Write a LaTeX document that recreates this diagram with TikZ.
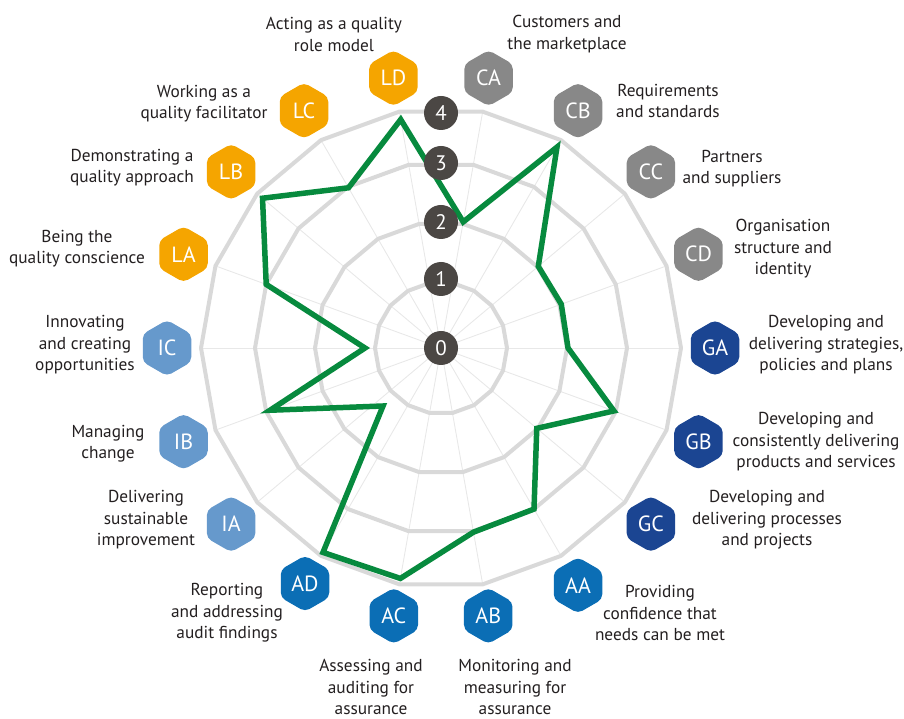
\documentclass[tikz,border=0pt]{standalone}
\usepackage{fontspec}
\setmainfont{PT Sans}
\usetikzlibrary{shapes.geometric}
\definecolor{ringgray}{HTML}{D9D9D9}
\definecolor{spokegray}{HTML}{E8E8E8}
\definecolor{qgreen}{HTML}{078A3E}
\definecolor{numgray}{HTML}{4B4744}
\definecolor{txt}{HTML}{231F20}
\definecolor{lorange}{HTML}{F5A500}
\definecolor{cgray}{HTML}{888888}
\definecolor{gnavy}{HTML}{1B4592}
\definecolor{ablue}{HTML}{0B6EB5}
\definecolor{ilight}{HTML}{6699CC}
\begin{document}
\begin{tikzpicture}[x=1pt,y=1pt,
  hexbox/.style={regular polygon, regular polygon sides=6, shape border rotate=30,
    minimum size=56pt, inner sep=0pt, rounded corners=5pt, text=white,
    font=\fontsize{22}{22}\selectfont},
  numdot/.style={circle, fill=numgray, minimum size=34pt, inner sep=0pt, text=white,
    font=\fontsize{21}{21}\selectfont},
  lbl/.style={align=center, text=txt, font=\fontsize{17.3}{21.5}\selectfont, inner sep=0pt},
  ring/.style={draw=ringgray, line width=4pt, line join=round},
  spoke/.style={draw=spokegray, line width=0.9pt},
  profile/.style={draw=qgreen, line width=5.5pt, line join=miter}]
\useasboundingbox (0,0) rectangle (904,718);
\coordinate (C) at (441,370);
\begin{scope}[shift={(C)}]
  \foreach \a in {0,20,...,340} \draw[spoke] (0,0) -- (\a:240);
  \foreach \r in {66,126,186,240}
    \draw[ring] (0:\r) \foreach \a in {20,40,...,340} { -- (\a:\r) } -- cycle;
  % profile
  \draw[profile] (100:232) -- (80:128) -- (60:232) -- (40:127) -- (20:128) -- (0:127)
    -- (-20:184) -- (-40:125) -- (-60:186) -- (-80:187) -- (-100:234) -- (-120:236)
    -- (-58,-58) -- (-160:182) -- (180:76) -- (160:186) -- (140:233) -- (120:185) -- cycle;
  % hexagons
  \node[hexbox, fill=lorange] (LD) at (100:274) {LD};
  \node[hexbox, fill=cgray]   (CA) at (80:274) {CA};
  \node[hexbox, fill=cgray]   (CB) at (60:274) {CB};
  \node[hexbox, fill=cgray]   (CC) at (40:274) {CC};
  \node[hexbox, fill=cgray]   (CD) at (20:274) {CD};
  \node[hexbox, fill=gnavy]   (GA) at (0:274) {GA};
  \node[hexbox, fill=gnavy]   (GB) at (-20:274) {GB};
  \node[hexbox, fill=gnavy]   (GC) at (-40:274) {GC};
  \node[hexbox, fill=ablue]   (AA) at (-60:274) {AA};
  \node[hexbox, fill=ablue]   (AB) at (-80:272) {AB};
  \node[hexbox, fill=ablue]   (AC) at (-100:272) {AC};
  \node[hexbox, fill=ablue]   (AD) at (-120:272) {AD};
  \node[hexbox, fill=ilight]  (IA) at (-140:274) {IA};
  \node[hexbox, fill=ilight]  (IB) at (-160:274) {IB};
  \node[hexbox, fill=ilight]  (IC) at (180:274) {IC};
  \node[hexbox, fill=lorange] (LA) at (160:274) {LA};
  \node[hexbox, fill=lorange] (LB) at (140:274) {LB};
  \node[hexbox, fill=lorange] (LC) at (120:274) {LC};
  % scale numbers
  \node[numdot] (n0) at (0,0) {0};
  \node[numdot] (n1) at (0,69) {1};
  \node[numdot] (n2) at (0,126) {2};
  \node[numdot] (n3) at (0,185) {3};
  \node[numdot] (n4) at (0,235) {4};
\end{scope}
% labels
\node[lbl] (tLD) at (334,683.5) {Acting as a quality\\role model};
\node[lbl] (tCA) at (567,684) {Customers and\\the marketplace};
\node[lbl] (tCB) at (668,617) {Requirements\\and standards};
\node[lbl] (tCC) at (732,549.5) {Partners\\and suppliers};
\node[lbl] (tCD) at (783,469) {Organisation\\structure and\\identity};
\node[lbl] (tGA) at (826,373) {Developing and\\delivering strategies,\\policies and plans};
\node[lbl] (tGB) at (816,276) {Developing and\\consistently delivering\\products and services};
\node[lbl] (tGC) at (767,198) {Developing and\\delivering processes\\and projects};
\node[lbl] (tAA) at (660,105) {Providing\\confidence that\\needs can be met};
\node[lbl] (tAB) at (515,31) {Monitoring and\\measuring for\\assurance};
\node[lbl] (tAC) at (371,31) {Assessing and\\auditing for\\assurance};
\node[lbl] (tAD) at (227,105) {Reporting\\and addressing\\audit findings};
\node[lbl] (tIA) at (146,198) {Delivering\\sustainable\\improvement};
\node[lbl] (tIB) at (108,274.5) {Managing\\change};
\node[lbl] (tIC) at (85,373) {Innovating\\and creating\\opportunities};
\node[lbl] (tLA) at (77,469.5) {Being the\\quality conscience};
\node[lbl] (tLB) at (132,550.5) {Demonstrating a\\quality approach};
\node[lbl] (tLC) at (204,614.5) {Working as a\\quality facilitator};
\end{tikzpicture}
\end{document}
